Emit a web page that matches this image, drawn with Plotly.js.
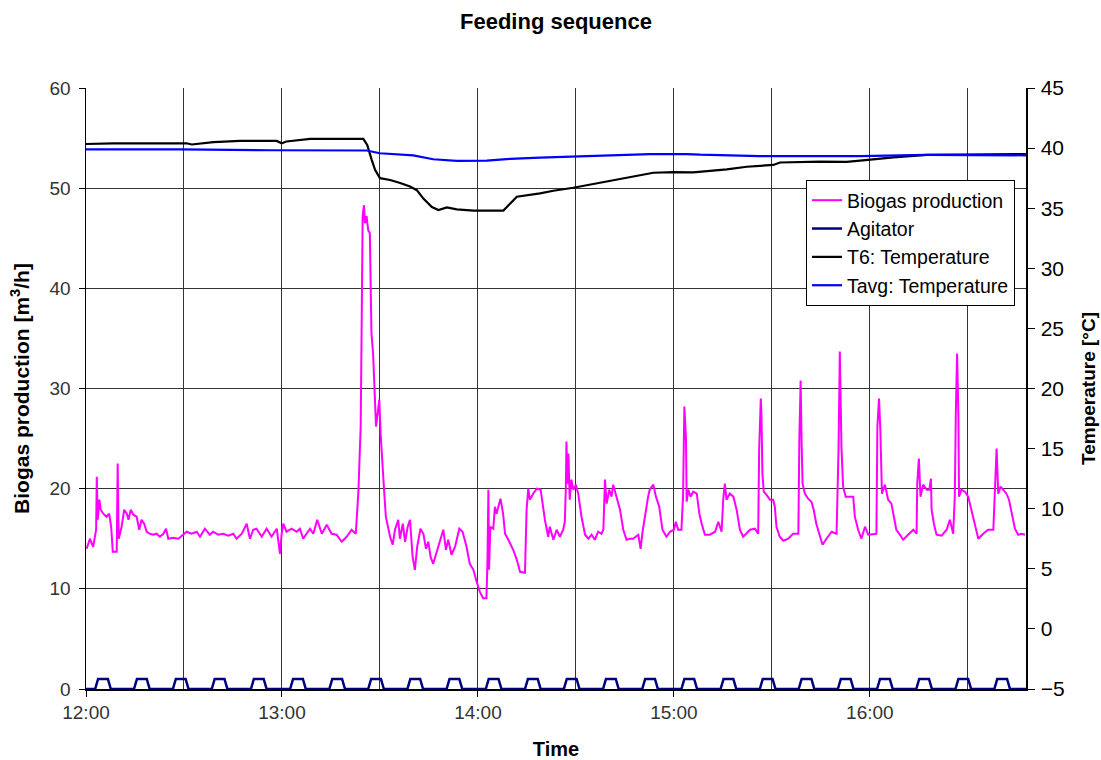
<!DOCTYPE html>
<html><head><meta charset="utf-8">
<script src="https://cdn.plot.ly/plotly-3.0.1.min.js"></script>
<style>html,body{margin:0;padding:0;background:#fff}</style>
</head><body><div id="chart" style="width:1101px;height:760px"></div>
<script>
// time in minutes after 12:00
const bioMin = [0.2,1.2,2.2,2.8,3.1,3.3,3.6,4.1,4.5,5.3,6.3,7.1,7.7,8.2,9.4,9.7,10.0,10.4,10.9,11.7,12.5,13.0,13.7,14.5,15.5,16.3,17.0,17.8,18.6,19.6,20.6,21.6,22.6,23.7,24.5,25.2,26.7,28.3,29.8,30.8,32.3,33.9,34.9,36.4,37.9,38.9,40.5,42.0,43.6,45.1,46.1,47.7,49.2,50.2,51.2,52.2,53.8,55.3,56.8,58.4,59.4,59.9,60.4,61.4,62.9,64.5,65.5,66.5,67.5,68.6,69.6,70.8,72.2,73.7,75.2,76.7,78.3,79.8,81.3,82.6,
83.4,83.9,84.1,84.4,84.7,85.1,85.4,85.9,86.4,86.9,87.1,87.4,87.9,88.3,88.8,89.3,89.8,90.2,90.8,91.2,91.8,92.5,93.1,93.9,94.6,95.6,96.1,97.0,97.7,98.5,99.2,100.0,100.7,101.4,102.4,103.3,104.1,104.8,105.5,106.3,107.3,108.3,109.4,110.2,110.9,111.9,113.0,114.3,115.3,116.5,117.5,118.6,119.6,120.6,121.6,122.6,122.9,123.2,123.4,123.8,124.7,125.2,125.7,126.9,127.7,128.3,129.3,130.0,130.8,131.9,132.9,134.4,134.9,135.4,135.9,136.9,138.0,
139.2,139.8,140.5,141.5,142.0,143.1,144.1,145.1,146.1,146.6,146.9,147.1,147.4,147.7,148.1,148.6,149.2,150.0,150.7,151.7,152.8,153.8,154.8,155.8,156.8,157.8,158.4,158.9,159.4,160.2,160.9,161.4,162.4,163.5,164.5,165.5,166.5,167.5,169.1,169.8,170.4,171.1,172.1,172.6,173.7,174.5,175.5,176.5,177.7,178.8,180.0,180.6,181.3,182.3,182.8,183.2,183.7,183.9,184.4,185.1,185.9,187.0,187.8,188.5,189.5,191.0,192.6,193.6,194.6,195.1,195.6,196.1,197.1,198.2,199.2,200.2,201.2,
203.3,204.8,205.8,206.1,206.6,206.8,207.1,207.5,208.3,209.4,210.4,210.9,211.4,212.4,213.5,215.0,216.5,218.1,218.4,218.8,219.1,219.4,220.1,221.1,222.1,222.8,223.6,224.5,225.5,226.7,228.3,229.8,230.4,230.8,231.3,231.8,232.6,233.9,234.9,235.4,236.4,237.4,238.5,239.5,241.0,242.0,242.3,242.8,243.2,243.7,244.6,245.6,246.6,247.3,248.1,249.2,250.2,251.7,253.3,254.3,254.5,255.0,255.5,256.3,257.4,258.2,258.7,258.9,259.6,260.4,262.0,263.5,264.5,265.5,266.0,266.3,266.7,267.1,267.3,268.0,269.1,270.1,271.1,272.1,273.2,274.7,276.2,277.8,278.3,278.8,279.3,280.0,280.8,281.8,282.6,283.4,284.4,285.4,286.4,287.5];
const bioVal = [14.0,15.0,14.2,15.5,15.9,21.2,16.9,18.9,17.9,17.5,17.2,17.5,16.2,13.7,13.7,22.5,15.0,15.5,16.2,17.9,17.5,16.9,17.9,17.4,17.2,15.9,16.9,16.5,15.7,15.5,15.4,15.5,15.2,15.5,16.0,15.0,15.1,15.0,15.4,15.7,15.5,15.7,15.2,16.0,15.4,15.7,15.4,15.5,15.3,15.5,15.0,15.5,16.5,15.0,15.9,16.0,15.2,16.0,15.2,16.0,13.5,15.5,16.5,15.7,16.0,15.7,16.0,15.0,15.5,16.0,15.5,16.9,15.5,16.4,15.5,15.4,14.7,15.2,15.9,15.5,
19.7,23.2,26.2,36.2,47.2,48.3,46.5,47.2,45.8,45.5,40.2,35.5,33.5,30.5,26.2,27.5,28.9,25.5,22.9,20.2,17.2,16.2,15.2,14.4,15.9,16.9,15.0,16.5,14.7,16.2,16.9,13.2,11.9,14.2,16.0,15.5,14.0,14.7,13.2,12.5,13.5,14.7,15.9,13.9,14.9,13.4,14.2,16.0,15.7,14.2,12.5,11.9,10.7,9.7,9.05,9.05,12.5,19.9,11.9,16.2,16.0,18.2,17.5,19.0,17.5,15.5,14.9,14.4,13.9,12.9,11.7,11.6,17.9,20.0,18.9,19.5,20.0,
19.9,18.5,16.9,15.2,16.2,14.9,15.9,15.2,15.9,16.7,19.9,24.7,20.5,23.5,18.9,20.9,19.9,20.4,19.5,17.2,15.4,15.0,15.4,14.9,15.7,15.5,15.9,20.9,18.5,19.9,19.2,20.4,19.2,17.9,15.9,14.9,15.0,15.0,15.4,14.0,15.7,17.2,19.2,19.9,20.4,19.2,18.2,15.9,15.2,15.7,15.9,16.7,15.9,15.9,19.2,28.2,24.9,18.7,19.9,19.2,19.7,19.5,17.5,16.5,15.4,15.4,15.7,16.7,15.7,18.9,20.5,18.9,19.5,19.2,17.9,15.9,15.2,
15.9,16.0,15.5,23.9,29.0,27.5,21.5,19.7,19.4,18.9,18.9,18.2,16.2,15.2,14.8,15.0,15.5,15.5,24.9,30.8,24.5,20.5,19.5,19.0,18.7,17.9,16.5,15.5,14.4,15.0,15.7,15.5,23.9,33.7,24.2,20.2,19.2,19.2,19.2,17.2,15.9,15.0,16.2,15.4,15.5,15.5,26.2,29.0,25.9,19.5,20.4,18.9,18.5,17.2,15.9,15.4,14.9,15.4,15.9,15.5,20.5,23.0,19.2,20.4,19.9,19.9,21.0,17.9,16.5,15.4,15.3,15.9,16.9,15.5,19.2,27.2,33.5,27.5,19.2,19.9,19.7,19.2,17.9,16.5,15.0,15.5,15.9,15.9,19.2,24.0,19.5,20.2,19.9,19.5,18.9,17.6,16.0,15.4,15.5,15.4];

// agitator on/off pulses (minutes after 12:00)
const agitatorStart = [2.8,14.7,26.6,38.5,50.5,62.5,74.5,86.4,98.4,110.4,122.4,134.4,146.3,158.3,170.3,182.3,194.3,206.3,218.2,230.2,242.2,254.2,266.2,278.1];
const agitatorEnd   = [7.6,19.5,31.4,43.3,55.3,67.3,79.3,91.2,103.2,115.2,127.2,139.2,151.1,163.1,175.1,187.1,199.1,211.1,223.0,235.0,247.0,259.0,271.0,282.9];

const t6Min = [0,8.4,30.8,32.4,39.0,47.2,58.4,59.9,61.4,68.6,84.9,86.1,87.5,88.5,90.0,93.1,96.2,99.2,101.3,103.3,105.9,107.9,110.5,113.5,118.6,127.8,129.9,131.9,139.0,143.1,149.2,155.3,165.5,173.7,179.8,185.9,196.2,202.3,210.4,212.5,224.7,232.9,237.0,247.2,257.4,272.7,287.8];
const t6Val = [40.34,40.4,40.4,40.3,40.5,40.6,40.6,40.4,40.55,40.76,40.76,40.26,39.0,38.2,37.5,37.35,37.1,36.8,36.5,35.8,35.1,34.85,35.07,34.9,34.8,34.8,35.4,35.96,36.24,36.45,36.7,37.0,37.5,37.95,38.0,37.98,38.23,38.45,38.6,38.8,38.87,38.85,38.95,39.23,39.43,39.45,39.5];

const tavgMin = [0,28.8,56.3,85.9,90.0,100.2,106.3,113.5,122.7,129.8,139.0,151.2,162.4,172.7,183.9,188.0,206.3,237.0,257.4,287.8];
const tavgVal = [39.9,39.9,39.82,39.8,39.57,39.4,39.07,38.93,38.96,39.1,39.2,39.29,39.37,39.5,39.5,39.45,39.34,39.34,39.43,39.4];

const seriesNames = ['Biogas production','Agitator','T6: Temperature','Tavg: Temperature'];
const endMin = 287.8;

function toTime(m){
  const d = new Date(Date.UTC(2000,0,1,12,0,0) + Math.round(m*60000));
  return d.toISOString().replace('T',' ').slice(0,19);
}

// build agitator step table
const agX = [0], agY = [0];
const RAMP = 0.9;
for (let i=0;i<agitatorStart.length;i++){
  agX.push(agitatorStart[i], agitatorStart[i]+RAMP, agitatorEnd[i]-RAMP, agitatorEnd[i]);
  agY.push(0,1,1,0);
}
agX.push(endMin); agY.push(0);

const FONT = 'Liberation Sans, Arial, sans-serif';

const traces = [
  {x: bioMin.map(toTime), y: bioVal, name: seriesNames[0], type:'scatter', mode:'lines',
   line:{color:'#ff00ff', width:2}, yaxis:'y'},
  {x: agX.map(toTime), y: agY, name: seriesNames[1], type:'scatter', mode:'lines',
   line:{color:'#000080', width:2.5}, yaxis:'y', cliponaxis:false},
  {x: t6Min.map(toTime), y: t6Val, name: seriesNames[2], type:'scatter', mode:'lines',
   line:{color:'#000000', width:2.2}, yaxis:'y2'},
  {x: tavgMin.map(toTime), y: tavgVal, name: seriesNames[3], type:'scatter', mode:'lines',
   line:{color:'#0000ff', width:2.2}, yaxis:'y2'}
];

const layout = {
  width:1101, height:760,
  margin:{l:86, r:75, t:88, b:71},
  paper_bgcolor:'#fff', plot_bgcolor:'#fff',
  font:{family:FONT, color:'#000'},
  showlegend:true,
  title:{text:'<b>Feeding sequence</b>', font:{size:22, family:FONT, color:'#000'},
         x:0.5, xref:'paper', xanchor:'center', y:1-21/760, yref:'container', yanchor:'middle'},
  xaxis:{
    type:'date', range:[toTime(0), toTime(endMin)],
    tick0:toTime(0), dtick:3600000, tickformat:'%H:%M',
    ticks:'outside', ticklen:6, tickcolor:'#000',
    showgrid:true, gridcolor:'#333', gridwidth:1,
    minor:{dtick:1800000, showgrid:true, gridcolor:'#333', gridwidth:1, ticks:''},
    showline:true, linecolor:'#000', linewidth:1.5,
    tickfont:{size:19, color:'#333', family:FONT},
    title:{text:'<b>Time</b>', font:{size:20, color:'#000', family:FONT}, standoff:20},
    zeroline:false, automargin:false
  },
  yaxis:{
    range:[0,60], dtick:10, tick0:0,
    ticks:'outside', ticklen:6, tickcolor:'#000', ticklabelstandoff:4,
    showgrid:true, gridcolor:'#333', gridwidth:1,
    showline:true, linecolor:'#000', linewidth:1.5,
    tickfont:{size:19, color:'#333', family:FONT},
    title:{text:'<b>Biogas production [m<sup>3</sup>/h]</b>', font:{size:21, color:'#000', family:FONT}, standoff:14},
    zeroline:false, automargin:false
  },
  yaxis2:{
    range:[-5,45], dtick:5, tick0:-5, overlaying:'y', side:'right',
    ticks:'outside', ticklen:7, tickcolor:'#000', ticklabelstandoff:2,
    showgrid:false,
    showline:true, linecolor:'#000', linewidth:1.5,
    tickfont:{size:21, color:'#000', family:FONT},
    title:{text:'<b>Temperature [°C]</b>', font:{size:19, color:'#000', family:FONT}, standoff:18},
    zeroline:false, automargin:false
  },
  legend:{
    x:(806-86)/940, xanchor:'left', y:(689-180)/601, yanchor:'top',
    bgcolor:'#fff', bordercolor:'#000', borderwidth:1,
    font:{size:19.5, color:'#000', family:FONT},
    itemwidth:30, tracegroupgap:0
  }
};

Plotly.newPlot('chart', traces, layout, {staticPlot:true, displayModeBar:false});
</script>
</body></html>
